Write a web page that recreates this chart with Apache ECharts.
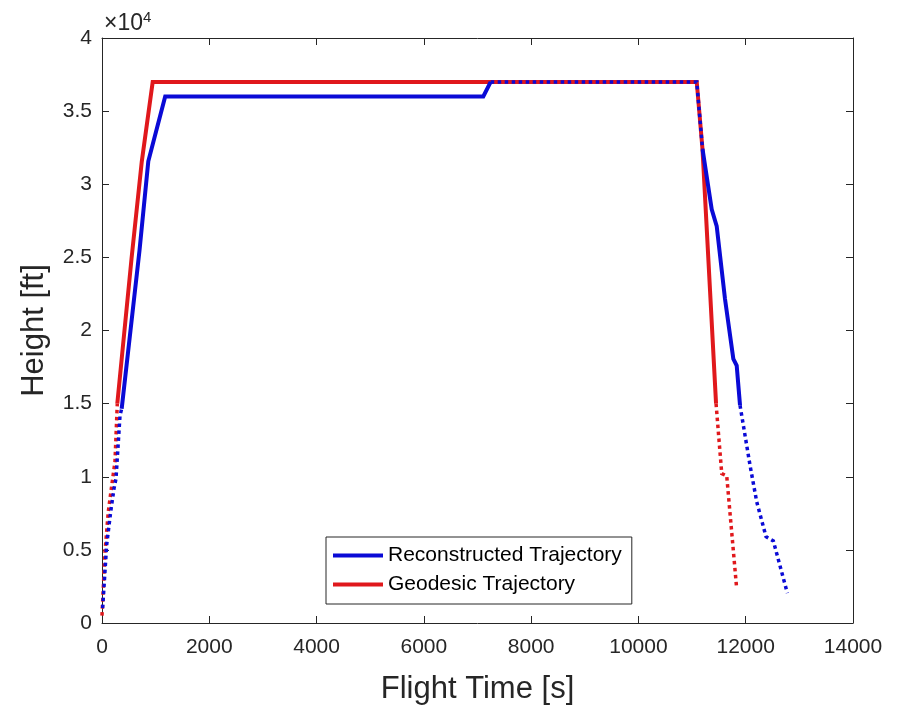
<!DOCTYPE html>
<html>
<head>
<meta charset="utf-8">
<script src="https://cdn.jsdelivr.net/npm/echarts@6/dist/echarts.min.js"></script>
<style>html,body{margin:0;padding:0;background:#fff}#c{width:905px;height:710px}</style>
</head>
<body>
<div id="c"></div>
<script>
// ---- data (time [s], height [ft]) ----
var geoDottedClimb = [[0,500],[56,4900],[118,7630],[199,9880],[242,11040],[285,15000]];
var geoSolid = [[285,15000],[550,24900],[740,31500],[945,37000],[11087,37000],[11195,32370],[11447,15000]];
var geoDottedDescent = [[11447,15000],[11553,10220],[11646,10060],[11832,2340]];

var recDottedClimb = [[12,1020],[87,5340],[162,7610],[224,9200],[261,9880],[336,14200],[367,14650]];
var recSolidClimb = [[367,14650],[700,25500],[863,31570],[1178,36000],[7108,36000],[7246,37000]];
var recDottedCruise = [[7246,37000],[11087,37000],[11195,32400]];
var recSolidDescent = [[11195,32400],[11366,28280],[11459,27140],[11614,22150],[11769,18060],[11832,17600],[11894,14880]];
var recDottedDescent = [[11894,14880],[12080,10790],[12205,8290],[12379,5900],[12515,5610],[12776,2040]];

var xTicks = [0,2000,4000,6000,8000,10000,12000,14000];
var yTicks = [0,5000,10000,15000,20000,25000,30000,35000,40000];

var BLUE = '#0a0ad6', RED = '#e0181c', AX = '#262626';
var FONT = 'Liberation Sans, Arial, sans-serif';
var W = 4, DOT = [3.5,3.5];

function ser(name, data, color, dotted, z){
  return {name:name, type:'line', data:data, showSymbol:false, symbol:'none', animation:false, z:z,
    lineStyle:{color:color, width: dotted?3.5:W, type: dotted?DOT:'solid', cap:'butt', join:'miter'},
    itemStyle:{color:color}};
}

var chart = echarts.init(document.getElementById('c'), null, {renderer:'canvas'});
function ax(extra){
  return Object.assign({
    type:'value', min:0,
    axisLine:{show:true, onZero:false, lineStyle:{color:AX, width:1}},
    axisTick:{show:true, inside:true, length:7, lineStyle:{color:AX}},
    splitLine:{show:false}
  }, extra);
}
chart.setOption({
  backgroundColor:'#fff',
  animation:false,
  grid:{left:102, right:52, top:38, bottom:85, containLabel:false},
  xAxis:[
    ax({max:xTicks[xTicks.length-1], interval:xTicks[1]-xTicks[0], position:'bottom',
      name:'Flight Time [s]', nameLocation:'middle', nameGap:51,
      nameTextStyle:{fontFamily:FONT, fontSize:31, color:AX},
      axisLabel:{fontFamily:FONT, fontSize:21, color:AX, margin:14, formatter:function(v){return String(v);}}}),
    ax({max:xTicks[xTicks.length-1], interval:xTicks[1]-xTicks[0], position:'top', axisLabel:{show:false}})
  ],
  yAxis:[
    ax({max:yTicks[yTicks.length-1], interval:yTicks[1]-yTicks[0], position:'left',
      name:'Height [ft]', nameLocation:'middle', nameGap:52,
      nameTextStyle:{fontFamily:FONT, fontSize:31, color:AX},
      axisLabel:{fontFamily:FONT, fontSize:21, color:AX, margin:10,
        formatter:function(v){return String(v/10000);}}}),
    ax({max:yTicks[yTicks.length-1], interval:yTicks[1]-yTicks[0], position:'right', axisLabel:{show:false}})
  ],
  legend:{
    data:[{name:'Reconstructed Trajectory'},{name:'Geodesic Trajectory'}],
    orient:'vertical', left:326, top:537,
    backgroundColor:'#fff', borderColor:AX, borderWidth:1, borderRadius:0,
    padding:[8,10,9,7], itemGap:8, itemWidth:50, itemHeight:4, icon:'rect',
    textStyle:{fontFamily:FONT, fontSize:21, color:'#000', lineHeight:20, padding:[0,0,0,0]}
  },
  graphic:[{
    type:'text', left:104, top:10,
    style:{rich:{a:{fontFamily:FONT, fontSize:23, fill:AX}, b:{fontFamily:FONT, fontSize:15, fill:AX, verticalAlign:'top', padding:[0,0,12,0]}},
      text:'{a|×10}{b|4}'}
  }],
  series:[
    ser('Geodesic Trajectory', geoSolid, RED, false, 2),
    ser('geoDotA', geoDottedClimb, RED, true, 2),
    ser('geoDotB', geoDottedDescent, RED, true, 2),
    ser('Reconstructed Trajectory', recSolidClimb, BLUE, false, 3),
    ser('recSolidD', recSolidDescent, BLUE, false, 3),
    ser('recDotA', recDottedClimb, BLUE, true, 4),
    ser('recDotB', recDottedCruise, BLUE, true, 4),
    ser('recDotC', recDottedDescent, BLUE, true, 4)
  ]
});
</script>
</body>
</html>
